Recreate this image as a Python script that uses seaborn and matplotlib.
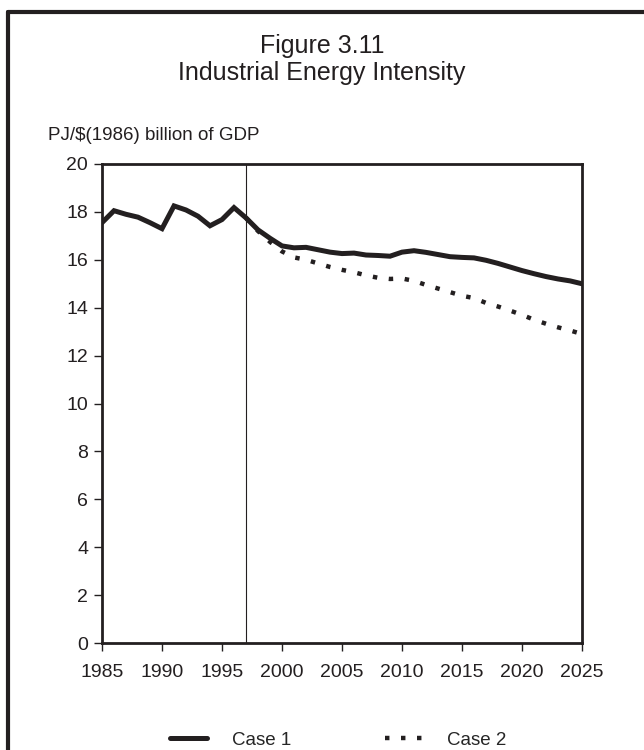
import pandas as pd
import matplotlib
matplotlib.use('Agg')
import matplotlib.pyplot as plt
from matplotlib.lines import Line2D
import seaborn as sns

# values
years_case1 = list(range(1985, 2026))
case1 = [17.55, 18.05, 17.9, 17.78, 17.55, 17.3, 18.25, 18.08, 17.82, 17.42,
         17.68, 18.18, 17.75, 17.25, 16.9, 16.58, 16.5, 16.52, 16.42, 16.32,
         16.26, 16.28, 16.2, 16.18, 16.15, 16.32, 16.38, 16.31, 16.22, 16.13,
         16.1, 16.08, 15.98, 15.85, 15.7, 15.55, 15.42, 15.3, 15.2, 15.12, 15.0]
years_case2 = list(range(1997, 2026))
case2 = [17.75, 17.2, 16.75, 16.35, 16.1, 16.0, 15.85, 15.7, 15.58, 15.48,
         15.35, 15.25, 15.2, 15.22, 15.12, 14.95, 14.8, 14.65, 14.5, 14.4,
         14.2, 14.05, 13.88, 13.7, 13.5, 13.33, 13.18, 13.05, 12.9]
x_ticks = [1985, 1990, 1995, 2000, 2005, 2010, 2015, 2020, 2025]
y_ticks = [0, 2, 4, 6, 8, 10, 12, 14, 16, 18, 20]
split_year = 1997

df1 = pd.DataFrame({'year': years_case1, 'value': case1})
df2 = pd.DataFrame({'year': years_case2, 'value': case2})

sns.set_theme(style="white")
plt.rcParams['font.family'] = ['Liberation Sans', 'DejaVu Sans']
ink = '#231f20'

fig = plt.figure(figsize=(6.44, 7.5), dpi=100)
ax = fig.add_axes([102/644, 1 - 643/750, 480/644, 479/750])

sns.lineplot(data=df1, x='year', y='value', ax=ax, color=ink, linewidth=3.6,
             label='Case 1', solid_joinstyle='miter')
sns.lineplot(data=df2, x='year', y='value', ax=ax, color=ink, linewidth=3.2,
             linestyle=(0, (1, 2.6)), dash_capstyle='butt', label='Case 2')
ax.axvline(split_year, color=ink, linewidth=0.8)

ax.set_xlim(1985, 2025)
ax.set_ylim(0, 20)
ax.set_xticks(x_ticks)
ax.set_yticks(y_ticks)
ax.set_xlabel('')
ax.set_ylabel('')
for s in ax.spines.values():
    s.set_color(ink)
    s.set_linewidth(2.0)
ax.tick_params(direction='out', length=6, width=1, colors=ink, labelsize=14,
               bottom=True, left=True)
ax.tick_params(axis='x', pad=9)
ax.tick_params(axis='y', pad=4)

ax.get_legend().remove()
fig.legend(loc='center', bbox_to_anchor=(0.5 + 16/644, 1 - 740/750), ncol=2, frameon=False,
           fontsize=13.5, handlelength=2.0, columnspacing=5.0, handletextpad=1.3)

fig.text(0.5, 1 - 46/750, 'Figure 3.11', ha='center', va='center', fontsize=18, color=ink)
fig.text(0.5, 1 - 73/750, 'Industrial Energy Intensity', ha='center', va='center',
         fontsize=18, color=ink)
fig.text(48/644, 1 - 135/750, 'PJ/$(1986) billion of GDP', ha='left', va='center',
         fontsize=13.5, color=ink)

# open frame around the page (left and top edges)
fig.add_artist(Line2D([8/644, 1.0], [1 - 12/750, 1 - 12/750], color=ink, linewidth=3,
                      transform=fig.transFigure))
fig.add_artist(Line2D([8/644, 8/644], [0, 1 - 12/750], color=ink, linewidth=3,
                      transform=fig.transFigure))

fig.savefig('out.png', dpi=100)
